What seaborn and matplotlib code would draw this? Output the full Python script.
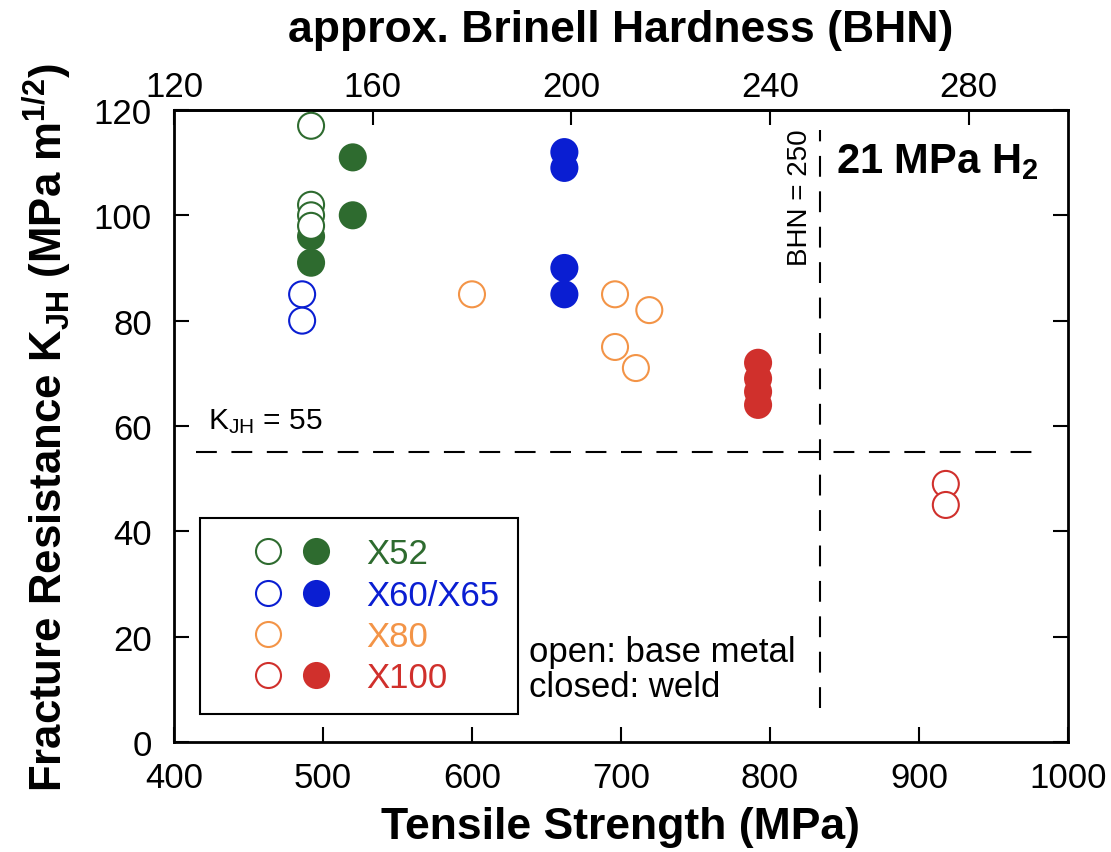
import numpy as np
import pandas as pd
import matplotlib
matplotlib.use("Agg")
import matplotlib.pyplot as plt
import seaborn as sns
from matplotlib.lines import Line2D
from matplotlib.legend_handler import HandlerTuple

# ---------------- data ----------------
grades = ["X52", "X60/X65", "X80", "X100"]
grade_colors = ["#2e6b2f", "#0a1ed2", "#f39447", "#d0302c"]

# base metal (open symbols)
x52_base_ts = [492, 492, 492, 492]
x52_base_k = [117, 102, 100, 98]
x60_base_ts = [486, 486]
x60_base_k = [85, 80]
x80_base_ts = [600, 696, 719, 696, 710]
x80_base_k = [85, 85, 82, 75, 71]
x100_base_ts = [918, 918]
x100_base_k = [49, 45]

# weld (closed symbols)
x52_weld_ts = [492, 492, 520, 520]
x52_weld_k = [96, 91, 111, 100]
x60_weld_ts = [662, 662, 662, 662]
x60_weld_k = [112, 109, 90, 85]
x100_weld_ts = [792, 792, 792, 792]
x100_weld_k = [72, 69, 66.5, 64]

K_JH_LIMIT = 55
BHN_LIMIT = 250
BHN_PER_MPA = 0.3  # approx. conversion tensile strength -> BHN

x_ticks = [400, 500, 600, 700, 800, 900, 1000]
y_ticks = [0, 20, 40, 60, 80, 100, 120]
bhn_ticks = [120, 160, 200, 240, 280]

base = pd.DataFrame({
    "ts": x52_base_ts + x60_base_ts + x80_base_ts + x100_base_ts,
    "k": x52_base_k + x60_base_k + x80_base_k + x100_base_k,
    "grade": ["X52"] * len(x52_base_ts) + ["X60/X65"] * len(x60_base_ts)
             + ["X80"] * len(x80_base_ts) + ["X100"] * len(x100_base_ts),
})
weld = pd.DataFrame({
    "ts": x52_weld_ts + x60_weld_ts + x100_weld_ts,
    "k": x52_weld_k + x60_weld_k + x100_weld_k,
    "grade": ["X52"] * len(x52_weld_ts) + ["X60/X65"] * len(x60_weld_ts)
             + ["X100"] * len(x100_weld_ts),
})
palette = dict(zip(grades, grade_colors))

# ---------------- style ----------------
sns.set_style("white")
plt.rcParams["font.family"] = ["Liberation Sans", "DejaVu Sans"]
plt.rcParams["mathtext.fontset"] = "custom"
plt.rcParams["mathtext.rm"] = "Liberation Sans"
plt.rcParams["mathtext.it"] = "Liberation Sans:italic"
plt.rcParams["mathtext.bf"] = "Liberation Sans:bold"
plt.rcParams["text.color"] = "black"
plt.rcParams["axes.labelcolor"] = "black"
plt.rcParams["xtick.color"] = "black"
plt.rcParams["ytick.color"] = "black"

fig = plt.figure(figsize=(11.11, 8.53), dpi=100)
ax = fig.add_axes([0.1566, 0.129, 0.8047, 0.7409])

MS = 350
sns.scatterplot(data=weld, x="ts", y="k", hue="grade", palette=palette,
                s=MS, linewidth=1.5, legend=False, ax=ax, zorder=3)
for c in ax.collections:
    c.set_edgecolors(c.get_facecolors())
sns.scatterplot(data=base, x="ts", y="k", hue="grade", palette=palette,
                s=MS, linewidth=1.5, legend=False, ax=ax, zorder=4)
coll = ax.collections[-1]
coll.set_edgecolors(coll.get_facecolors())
coll.set_facecolors("white")

# reference lines
dash = (10, 7)
ax.axhline(K_JH_LIMIT, xmin=0.025, xmax=0.975, color="black", lw=1.5,
           dashes=dash, zorder=2)
ax.axvline(BHN_LIMIT / BHN_PER_MPA, ymin=0.054, ymax=0.968, color="black",
           lw=1.5, dashes=dash, zorder=2)

ax.set_xlim(400, 1000)
ax.set_ylim(0, 120)
ax.set_xticks(x_ticks)
ax.set_yticks(y_ticks)
for sp in ax.spines.values():
    sp.set_linewidth(2)
    sp.set_color("black")
ax.tick_params(axis="both", direction="in", length=11, width=1.5,
               labelsize=25, colors="black")
ax.tick_params(axis="x", pad=14, top=False, bottom=True)
ax.tick_params(axis="y", pad=16, left=True, right=True)

ax.set_xlabel("Tensile Strength (MPa)", fontsize=32, fontweight="bold")
ax.xaxis.set_label_coords(0.499, -0.102)
ax.xaxis.label.set_va("top")
ax.set_ylabel("Fracture Resistance K$_\\mathbf{JH}$ (MPa m$^\\mathbf{1/2}$)",
              fontsize=31.5, fontweight="bold")
ax.yaxis.set_label_coords(-0.112, 0.50)

secax = ax.secondary_xaxis("top", functions=(lambda t: t * BHN_PER_MPA,
                                             lambda b: b / BHN_PER_MPA))
secax.set_xticks(bhn_ticks)
secax.tick_params(direction="in", length=11, width=1.5, labelsize=25, pad=5,
                  colors="black")
secax.spines["top"].set_linewidth(2)
secax.set_xlabel("approx. Brinell Hardness (BHN)", fontsize=32,
                 fontweight="bold", labelpad=21)

# annotations
ax.text(423, 59.5, "K$_\\mathregular{JH}$ = 55", fontsize=21.5,
        ha="left", va="baseline")
ax.text(820, 116.5, "BHN = 250", fontsize=20, rotation=90,
        ha="center", va="top")
ax.text(844, 108.2, "21 MPa H$_\\mathbf{2}$", fontsize=30,
        fontweight="bold", ha="left", va="baseline")
ax.text(638, 15.4, "open: base metal", fontsize=25, ha="left", va="baseline")
ax.text(638, 8.7, "closed: weld", fontsize=25, ha="left", va="baseline")


# legend
class OffsetTuple(HandlerTuple):
    def __init__(self, offset=0.0, **kw):
        super().__init__(**kw)
        self.offset = offset

    def create_artists(self, legend, orig_handle, xdescent, ydescent,
                       width, height, fontsize, trans):
        off = self.offset * fontsize
        return super().create_artists(legend, orig_handle, xdescent - off,
                                      ydescent, width - off, height,
                                      fontsize, trans)


LMS = 18
handles = []
for g, col in zip(grades, grade_colors):
    op = Line2D([], [], ls="none", marker="o", ms=LMS, mfc="white",
                mec=col, mew=1.5)
    if g == "X80":
        cl = Line2D([], [], ls="none", marker="o", ms=LMS, mfc="none",
                    mec="none")
    else:
        cl = Line2D([], [], ls="none", marker="o", ms=LMS, mfc=col,
                    mec=col, mew=1.5)
    handles.append((op, cl))

leg = ax.legend(handles=handles, labels=grades,
                handler_map={tuple: OffsetTuple(offset=0.82, ndivide=None,
                                                pad=0.2)},
                loc="lower left", bbox_to_anchor=(0.029, 0.045),
                borderaxespad=0, fontsize=25, frameon=True, fancybox=False,
                framealpha=1, edgecolor="black", handlelength=3.39,
                handletextpad=0.85, labelspacing=0.24, borderpad=0.55)
leg.get_frame().set_linewidth(1.5)
for t, col in zip(leg.get_texts(), grade_colors):
    t.set_color(col)

fig.savefig("out.png", dpi=100)
